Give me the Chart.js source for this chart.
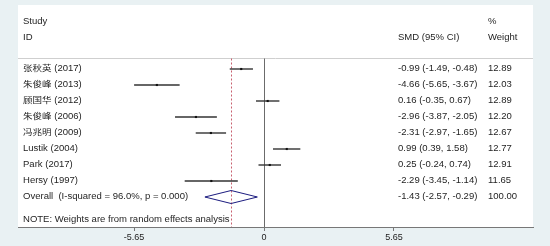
<!DOCTYPE html>
<html>
<head>
<meta charset="utf-8">
<script src="https://cdn.jsdelivr.net/npm/chart.js@4/dist/chart.umd.min.js"></script>
<style>
  html, body { margin: 0; padding: 0; background: #e9f1f3; }
  #wrap { width: 550px; height: 246px; }
</style>
</head>
<body>
<div id="wrap"><canvas id="forest" width="550" height="246"></canvas></div>
<script>
/* =========================
   Data
========================= */
const studies = ["张秋英 (2017)", "朱俊峰 (2013)", "顾国华 (2012)", "朱俊峰 (2006)",
                 "冯兆明 (2009)", "Lustik (2004)", "Park (2017)", "Hersy (1997)"];
const smd = [-0.99, -4.66, 0.16, -2.96, -2.31, 0.99, 0.25, -2.29];
const lower = [-1.49, -5.65, -0.35, -3.87, -2.97, 0.39, -0.24, -3.45];
const upper = [-0.48, -3.67, 0.67, -2.05, -1.65, 1.58, 0.74, -1.14];
const weights = ["12.89", "12.03", "12.89", "12.20", "12.67", "12.77", "12.91", "11.65"];

const overallLabel = "Overall  (I-squared = 96.0%, p = 0.000)";
const overallSmd = -1.43;
const overallLower = -2.57;
const overallUpper = -0.29;
const overallWeight = "100.00";

const axisTicks = [-5.65, 0, 5.65];
const noteText = "NOTE: Weights are from random effects analysis";

/* =========================
   Helpers
========================= */
const FONT = '8.5px "Liberation Sans", "Noto Sans CJK SC", sans-serif';
const TEXT_COLOR = "#1e1e1e";
const SEP_ROW = -0.69;

function fmt(v) { return v.toFixed(2); }

function stretchText(ctx, str, x, y) {
  ctx.save();
  ctx.translate(x, y);
  ctx.scale(1.12, 1);
  ctx.fillText(str, 0, 0);
  ctx.restore();
}

/* =========================
   Background + panel
========================= */
const panelPlugin = {
  id: "panel",
  beforeDraw: (chart) => {
    const ctx = chart.ctx;
    const a = chart.chartArea;
    ctx.save();
    ctx.fillStyle = "#e9f1f3";
    ctx.fillRect(0, 0, chart.width, chart.height);
    ctx.fillStyle = "#ffffff";
    ctx.fillRect(a.left, a.top, a.right - a.left, a.bottom - a.top);
    ctx.restore();
  }
};

/* =========================
   Forest lines, diamond, text
========================= */
const forestPlugin = {
  id: "forest",
  beforeDatasetsDraw: (chart) => {
    const ctx = chart.ctx;
    const xs = chart.scales.x;
    const ys = chart.scales.y;
    const a = chart.chartArea;
    const sepY = Math.round(ys.getPixelForValue(SEP_ROW)) + 0.5;

    ctx.save();
    // header separator
    ctx.strokeStyle = "#cfcfcf";
    ctx.lineWidth = 1;
    ctx.beginPath();
    ctx.moveTo(a.left, sepY);
    ctx.lineTo(a.right, sepY);
    ctx.stroke();

    // null line
    const x0 = Math.round(xs.getPixelForValue(0)) + 0.5;
    ctx.strokeStyle = "#6b6b6b";
    ctx.beginPath();
    ctx.moveTo(x0, sepY);
    ctx.lineTo(x0, a.bottom);
    ctx.stroke();

    // overall effect dashed line
    const xo = Math.round(xs.getPixelForValue(overallSmd)) + 0.5;
    ctx.strokeStyle = "#c8606f";
    ctx.setLineDash([2, 2]);
    ctx.beginPath();
    ctx.moveTo(xo, sepY);
    ctx.lineTo(xo, a.bottom);
    ctx.stroke();
    ctx.setLineDash([]);

    // confidence intervals
    ctx.strokeStyle = "#333";
    ctx.lineWidth = 1.4;
    studies.forEach((s, i) => {
      const y = ys.getPixelForValue(i);
      ctx.beginPath();
      ctx.moveTo(xs.getPixelForValue(lower[i]), y);
      ctx.lineTo(xs.getPixelForValue(upper[i]), y);
      ctx.stroke();
    });
    ctx.restore();
  },
  afterDatasetsDraw: (chart) => {
    const ctx = chart.ctx;
    const xs = chart.scales.x;
    const ys = chart.scales.y;
    const a = chart.chartArea;
    const colLabel = a.left + 5;
    const colSmd = 398;
    const colWeight = 488;
    const n = studies.length;

    ctx.save();
    // overall diamond
    const yd = ys.getPixelForValue(n);
    ctx.strokeStyle = "#1c1c80";
    ctx.lineWidth = 1;
    ctx.beginPath();
    ctx.moveTo(xs.getPixelForValue(overallLower), yd);
    ctx.lineTo(xs.getPixelForValue(overallSmd), yd - 6.5);
    ctx.lineTo(xs.getPixelForValue(overallUpper), yd);
    ctx.lineTo(xs.getPixelForValue(overallSmd), yd + 6.5);
    ctx.closePath();
    ctx.stroke();

    // text
    ctx.font = FONT;
    ctx.fillStyle = TEXT_COLOR;
    ctx.textBaseline = "middle";
    ctx.textAlign = "left";

    stretchText(ctx, "Study", colLabel, ys.getPixelForValue(-2.95));
    stretchText(ctx, "ID", colLabel, ys.getPixelForValue(-1.95));
    stretchText(ctx, "%", colWeight, ys.getPixelForValue(-2.95));
    stretchText(ctx, "SMD (95% CI)", colSmd, ys.getPixelForValue(-1.95));
    stretchText(ctx, "Weight", colWeight, ys.getPixelForValue(-1.95));

    studies.forEach((s, i) => {
      const y = ys.getPixelForValue(i);
      stretchText(ctx, s, colLabel, y);
      stretchText(ctx, fmt(smd[i]) + " (" + fmt(lower[i]) + ", " + fmt(upper[i]) + ")", colSmd, y);
      stretchText(ctx, weights[i], colWeight, y);
    });

    stretchText(ctx, overallLabel, colLabel, yd);
    stretchText(ctx, fmt(overallSmd) + " (" + fmt(overallLower) + ", " + fmt(overallUpper) + ")", colSmd, yd);
    stretchText(ctx, overallWeight, colWeight, yd);

    stretchText(ctx, noteText, colLabel, ys.getPixelForValue(9.44));
    ctx.restore();
  }
};

/* =========================
   Chart
========================= */
const ctx = document.getElementById("forest").getContext("2d");

new Chart(ctx, {
  type: "scatter",
  data: {
    datasets: [{
      label: "SMD",
      data: smd.map((v, i) => ({ x: v, y: i })),
      pointStyle: "rect",
      pointRadius: 1.5,
      backgroundColor: "#111",
      borderColor: "#111",
      borderWidth: 0
    }]
  },
  options: {
    responsive: false,
    animation: false,
    layout: { padding: { left: 18, right: 17, top: 5, bottom: 0 } },
    plugins: {
      legend: { display: false },
      tooltip: { enabled: false }
    },
    scales: {
      x: {
        type: "linear",
        min: -10.7,
        max: 11.7,
        afterBuildTicks: (scale) => {
          scale.ticks = axisTicks.map(v => ({ value: v }));
        },
        afterFit: (scale) => { scale.height = 19; },
        ticks: {
          color: "#222",
          font: { family: '"Liberation Sans", sans-serif', size: 9 },
          padding: 1,
          maxRotation: 0,
          autoSkip: false,
          callback: (v) => (v === 0 ? "0" : v.toFixed(2))
        },
        grid: {
          drawOnChartArea: false,
          drawTicks: true,
          tickLength: 4,
          color: "#777"
        },
        border: { color: "#777", width: 1 }
      },
      y: {
        type: "linear",
        display: false,
        reverse: true,
        min: -4,
        max: 9.875
      }
    }
  },
  plugins: [panelPlugin, forestPlugin]
});
</script>
</body>
</html>
